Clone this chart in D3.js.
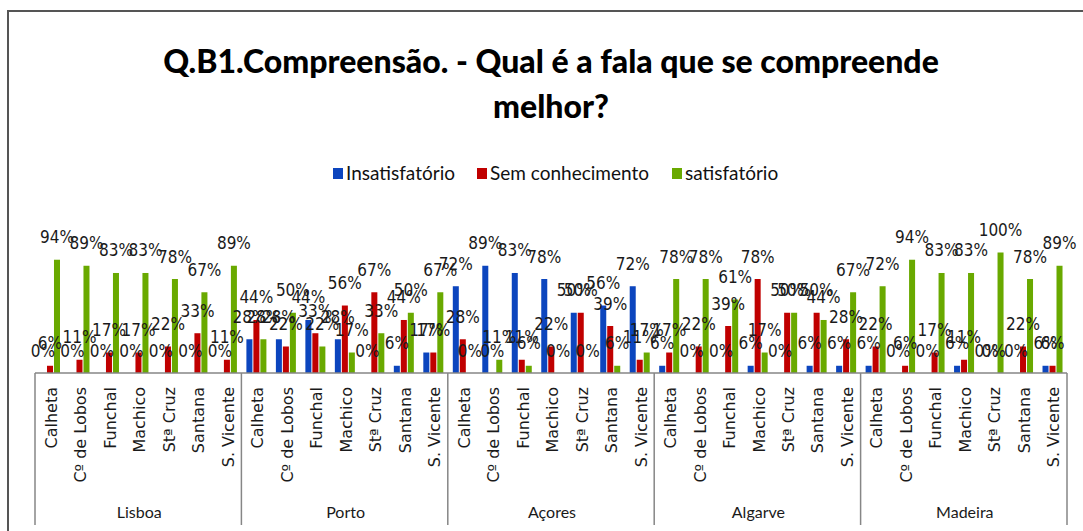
<!DOCTYPE html>
<html>
<head>
<meta charset="utf-8">
<script src="https://cdn.jsdelivr.net/npm/d3@7"></script>
<style>
  html, body { margin: 0; padding: 0; background: #fff; }
  svg { display: block; }
</style>
</head>
<body>
<svg id="chart" width="1083" height="531"></svg>
<script>
// Regions surveyed and the municipalities asked about in each
const groups = ["Lisboa", "Porto", "Açores", "Algarve", "Madeira"];
const categories = ["Calheta", "Cº de Lobos", "Funchal", "Machico", "Stª Cruz", "Santana", "S. Vicente"];
const seriesNames = ["Insatisfatório", "Sem conhecimento", "satisfatório"];

// Percentages per region, one entry per municipality (same order as categories)
const insatisfatorio = {
  "Lisboa":  [0, 0, 0, 0, 0, 0, 0],
  "Porto":   [28, 28, 44, 28, 0, 6, 17],
  "Açores":  [72, 89, 83, 78, 50, 56, 72],
  "Algarve": [6, 0, 0, 6, 0, 6, 6],
  "Madeira": [6, 0, 0, 6, 0, 0, 6]
};
const semConhecimento = {
  "Lisboa":  [6, 11, 17, 17, 22, 33, 11],
  "Porto":   [44, 22, 33, 56, 67, 44, 17],
  "Açores":  [28, 0, 11, 22, 50, 39, 11],
  "Algarve": [17, 22, 39, 78, 50, 50, 28],
  "Madeira": [22, 6, 17, 11, 0, 22, 6]
};
const satisfatorio = {
  "Lisboa":  [94, 89, 83, 83, 78, 67, 89],
  "Porto":   [28, 50, 22, 17, 33, 50, 67],
  "Açores":  [0, 11, 6, 0, 0, 6, 17],
  "Algarve": [78, 78, 61, 17, 50, 44, 67],
  "Madeira": [72, 94, 83, 83, 100, 78, 89]
};

const colors = ["#0C45BE", "#C00000", "#69A900"];
const seriesData = [insatisfatorio, semConhecimento, satisfatorio];

// Flatten into one row per (region, municipality, series)
const rows = [];
groups.forEach(g => {
  categories.forEach((c, ci) => {
    seriesNames.forEach((s, si) => {
      rows.push({ group: g, cat: c, key: g + "|" + c, series: s, si, value: seriesData[si][g][ci] });
    });
  });
});

const svg = d3.select("#chart");

// Outer frame (top and left edges visible)
svg.append("path")
  .attr("d", "M8,540 L8,11 L1090,11")
  .attr("fill", "none")
  .attr("stroke", "#555")
  .attr("stroke-width", 2);

// Title
const title = svg.append("text")
  .attr("x", 551)
  .attr("text-anchor", "middle")
  .attr("font-family", "Lato, 'Open Sans', sans-serif")
  .attr("font-weight", 900)
  .attr("font-size", 32)
  .attr("fill", "#000");
title.append("tspan").attr("x", 551).attr("y", 73).text("Q.B1.Compreensão. - Qual é a fala que se compreende");
title.append("tspan").attr("x", 551).attr("y", 118).text("melhor?");

// Legend
const legendX = [333, 477, 672];
const legend = svg.append("g");
seriesNames.forEach((s, i) => {
  legend.append("rect")
    .attr("x", legendX[i]).attr("y", 168)
    .attr("width", 10).attr("height", 11)
    .attr("fill", colors[i]);
  legend.append("text")
    .attr("x", legendX[i] + 13).attr("y", 180)
    .attr("font-family", "Lato, sans-serif")
    .attr("font-size", 19)
    .attr("fill", "#111")
    .text(s);
});

// Scales
const left = 35, right = 1067, baseY = 373;
const keys = [];
groups.forEach(g => categories.forEach(c => keys.push(g + "|" + c)));

const x0 = d3.scaleBand().domain(keys).range([left, right]).paddingInner(0).paddingOuter(0);
const x1 = d3.scaleBand().domain(seriesNames).range([5, 25]).paddingInner(0.14);
const gx = d3.scaleBand().domain(groups).range([left, right]);
const y = d3.scaleLinear().domain([0, 100]).range([baseY, 252.5]);

// Bars
svg.append("g").selectAll("rect")
  .data(rows)
  .join("rect")
  .attr("x", d => x0(d.key) + x1(d.series))
  .attr("width", x1.bandwidth())
  .attr("y", d => y(d.value))
  .attr("height", d => baseY - y(d.value))
  .attr("fill", d => colors[d.si]);

// Value labels
svg.append("g").selectAll("text")
  .data(rows)
  .join("text")
  .attr("x", d => x0(d.key) + x1(d.series) + x1.bandwidth() / 2)
  .attr("y", d => y(d.value) - 16.5)
  .attr("text-anchor", "middle")
  .attr("font-family", "'Liberation Sans Narrow', 'DejaVu Sans Condensed', sans-serif")
  .attr("font-size", 17)
  .attr("fill", "#1a1a1a")
  .text(d => d.value + "%");

// Category axis line
svg.append("line")
  .attr("x1", left).attr("x2", right)
  .attr("y1", baseY).attr("y2", baseY)
  .attr("stroke", "#868686").attr("stroke-width", 1.5);

// Group separators
svg.append("g").selectAll("line")
  .data(groups.map(g => gx(g)).concat([right]))
  .join("line")
  .attr("x1", d => d).attr("x2", d => d)
  .attr("y1", baseY).attr("y2", 525)
  .attr("stroke", "#868686").attr("stroke-width", 1.5);

// Municipality labels (rotated)
svg.append("g").selectAll("text")
  .data(keys)
  .join("text")
  .attr("transform", d => `translate(${x0(d) + x0.bandwidth() / 2 + 1.5},387) rotate(-90)`)
  .attr("text-anchor", "end")
  .attr("dy", "0.35em")
  .attr("font-family", "'DejaVu Sans', sans-serif")
  .attr("font-size", 16)
  .attr("fill", "#1a1a1a")
  .text(d => d.split("|")[1]);

// Region labels
svg.append("g").selectAll("text")
  .data(groups)
  .join("text")
  .attr("x", d => gx(d) + gx.bandwidth() / 2 + 1)
  .attr("y", 518)
  .attr("text-anchor", "middle")
  .attr("font-family", "Lato, sans-serif")
  .attr("font-size", 16)
  .attr("fill", "#1a1a1a")
  .text(d => d);
</script>
</body>
</html>
